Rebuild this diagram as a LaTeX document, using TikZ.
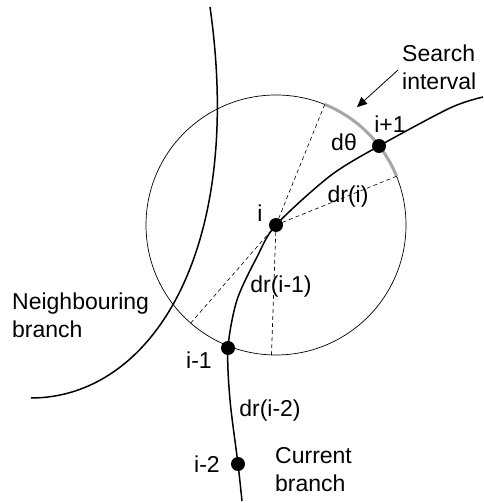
\documentclass[tikz,border=0pt]{standalone}
\usepackage{fontspec}
\setmainfont{Liberation Sans}
\usetikzlibrary{arrows.meta, calc}

\begin{document}
\begin{tikzpicture}[
    x=1pt, y=1pt,
    font=\fontsize{23}{28}\selectfont,
    dot/.style={circle, fill, inner sep=0pt, minimum size=14pt},
    lbl/.style={inner sep=0pt},
    branch/.style={line width=1.5pt},
    radial/.style={dash pattern=on 4pt off 3pt, line width=0.6pt}
  ]
  \useasboundingbox (0,0) rectangle (483,503);
  % points of the current branch
  \coordinate (cb-end) at (242,2);
  \coordinate (p-im2) at (238,39);
  \coordinate (p-im1) at (228,155);
  \coordinate (p-i) at (276,278);
  \coordinate (p-ip1) at (379,357);
  \coordinate (cb-top) at (483,406);
  % ends of the neighbouring branch
  \coordinate (nb-top) at (210,496);
  \coordinate (nb-end) at (31,105);

  % circle round i and the search interval
  \draw[line width=0.7pt] (p-i) circle[radius=130];
  \draw[black!35, line width=3pt] ($(p-i)+(68:130)$) arc[start angle=68, end angle=22, radius=130];
  \foreach \a in {68,22,268,229}
    \draw[radial] (p-i) -- ($(p-i)+(\a:130)$);

  % branches
  \draw[branch] plot[smooth] coordinates {(cb-end) (p-im2) (230,103) (p-im1)
    (237,203) (257,246) (p-i) (330,327) (p-ip1) (450,395) (cb-top)};
  \draw[branch] (nb-top) .. controls (245,250) and (150,105) .. (nb-end);

  \node[dot] (im2) at (p-im2) {};
  \node[dot] (im1) at (p-im1) {};
  \node[dot] (i) at (p-i) {};
  \node[dot] (ip1) at (p-ip1) {};

  % labels
  \node[lbl] (l-i) at (260,290) {i};
  \node[lbl] (l-ip1) at (390,379) {i+1};
  \node[lbl] (l-dth) at (344,361) {dθ};
  \node[lbl] (l-dri) at (348,306) {dr(i)};
  \node[lbl] (l-drim1) at (281,216) {dr(i-1)};
  \node[lbl] (l-im1) at (199,143) {i-1};
  \node[lbl] (l-drim2) at (270,92) {dr(i-2)};
  \node[lbl] (l-im2) at (207,39) {i-2};
  \node[lbl, anchor=west, align=left] (cur) at (275,33) {Current\\branch};
  \node[lbl, anchor=west, align=left] (nbr) at (12,188) {Neighbouring\\branch};
  \node[lbl, anchor=west, align=left] (search) at (402,436) {Search\\interval};

  \coordinate (arrtip) at ($(p-i)+(55.5:143)$);
  \draw[-{Triangle[length=10pt, width=9pt]}, line width=0.8pt] ([xshift=-4pt, yshift=-3pt]search.west) -- (arrtip);
\end{tikzpicture}
\end{document}
